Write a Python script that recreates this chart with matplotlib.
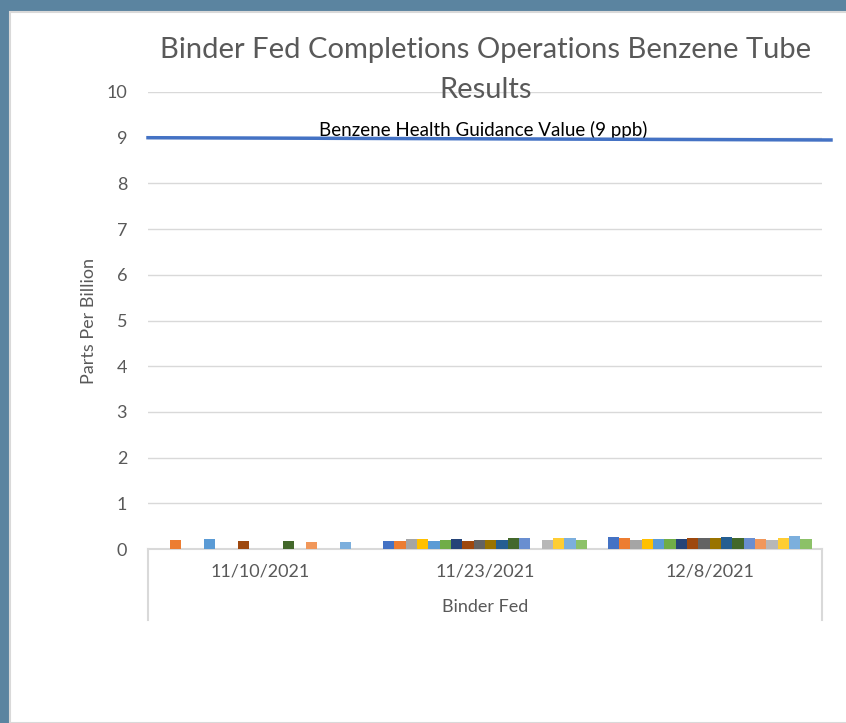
import matplotlib.pyplot as plt
import numpy as np

# Data (ppb), one list per sample series; nan = no result
dates = ['11/10/2021', '11/23/2021', '12/8/2021']
group_label = 'Binder Fed'
guidance_value = 9
guidance_label = 'Benzene Health Guidance Value (9 ppb)'

nan = np.nan
series_values = [
    [nan, 0.17, 0.26],
    [0.20, 0.17, 0.24],
    [nan, 0.21, 0.20],
    [nan, 0.21, 0.21],
    [0.22, 0.18, 0.21],
    [nan, 0.20, 0.21],
    [nan, 0.21, 0.21],
    [0.18, 0.17, 0.23],
    [nan, 0.20, 0.23],
    [nan, 0.20, 0.23],
    [nan, 0.20, 0.26],
    [0.18, 0.24, 0.23],
    [nan, 0.24, 0.23],
    [0.15, nan, 0.21],
    [nan, 0.20, 0.20],
    [nan, 0.23, 0.23],
    [0.15, 0.23, 0.28],
    [nan, 0.20, 0.21],
]
colors = ['#4472C4', '#ED7D31', '#A5A5A5', '#FFC000', '#5B9BD5', '#70AD47',
          '#264478', '#9E480E', '#636363', '#997300', '#255E91', '#43682B',
          '#698ED0', '#F1975A', '#B7B7B7', '#FFCD33', '#7CAFDD', '#8CC168']

plt.rcParams['font.family'] = ['Lato', 'DejaVu Sans']

fig = plt.figure(figsize=(8.46, 7.23), dpi=100)
fig.patch.set_facecolor('#5B84A0')
# white chart panel
fig.patches.append(plt.Rectangle((10 / 846, 0), 1, 1 - 12 / 723, transform=fig.transFigure,
                                 facecolor='white', edgecolor='#D9D9D9', lw=1.5, zorder=-10))

ax = fig.add_axes([148 / 846, 174 / 723, 674 / 846, 457 / 723])
ax.set_facecolor('none')

n = len(series_values)
x = np.arange(len(dates))
group_w = 0.907
w = group_w / n
for i, (vals, c) in enumerate(zip(series_values, colors)):
    ax.bar(x - group_w / 2 + w * (i + 0.5), vals, width=w, color=c, zorder=3)

ax.set_xlim(-0.5, 2.5)
ax.set_ylim(0, 10)
ax.set_yticks(range(0, 11))
ax.yaxis.grid(True, color='#D9D9D9', lw=1)
ax.set_axisbelow(True)
for s in ['top', 'right', 'left']:
    ax.spines[s].set_visible(False)
ax.spines['bottom'].set_color('#D9D9D9')
ax.spines['bottom'].set_linewidth(1.5)
ax.tick_params(axis='y', length=0, pad=15, labelsize=13, labelcolor='#595959')
ax.set_xticks([])
ax.set_ylabel('Parts Per Billion', fontsize=13, color='#595959', labelpad=7)

# multi-level category axis
for xi, d in zip(x, dates):
    ax.text(xi, -0.5, d, ha='center', va='center', fontsize=13, color='#595959')
ax.text(1, -1.28, group_label, ha='center', va='center', fontsize=13, color='#595959')
for xe in [-0.5, 2.5]:
    ax.plot([xe, xe], [0, -1.55], color='#D9D9D9', lw=1.5, clip_on=False)

# guidance line
ax.plot([-0.5, 2.5 + 3 * 9 / 674], [guidance_value, guidance_value - 0.05],
        color='#4472C4', lw=2.5, clip_on=False, zorder=4)
ax.text(0.99, guidance_value - 0.02, guidance_label, ha='center', va='bottom',
        fontsize=13.5, color='black')

fig.text(486 / 846, 1 - 70 / 723, 'Binder Fed Completions Operations Benzene Tube\nResults',
         ha='center', va='center', fontsize=21, color='#595959', linespacing=1.65)

fig.savefig('out.png', dpi=100, facecolor=fig.get_facecolor())
